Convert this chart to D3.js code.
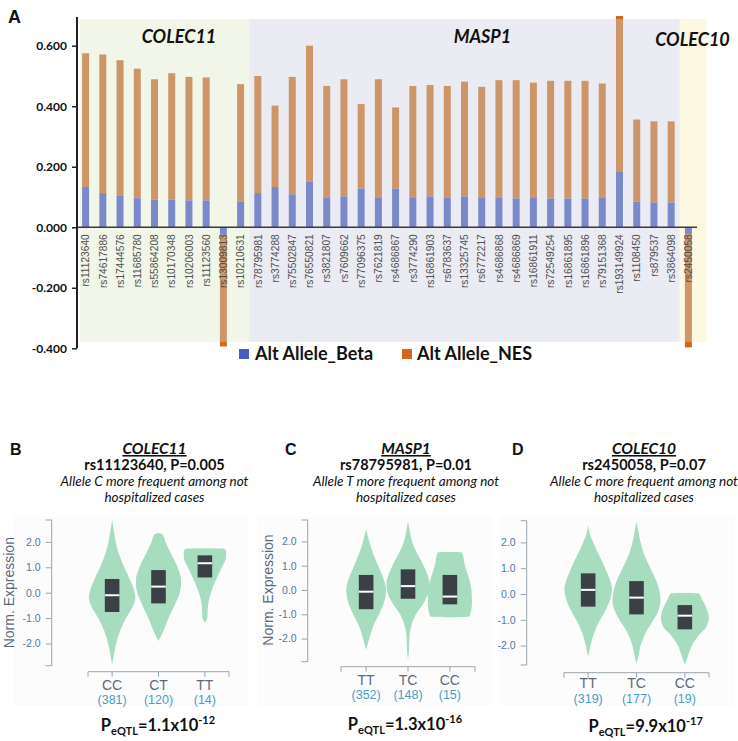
<!DOCTYPE html>
<html><head><meta charset="utf-8">
<script src="https://cdn.jsdelivr.net/npm/d3@7"></script>
<style>body{margin:0;background:#fff} svg{display:block}</style>
</head><body>
<svg id="c" width="738" height="741"></svg>
<script>
// ---------------- DATA: panel A ----------------
const snps = ["rs11123640","rs74617886","rs17444576","rs11685780","rs55864208","rs10170348","rs10206003","rs11123560","rs13009813","rs10210631",
  "rs78795981","rs3774288","rs75502847","rs76550821","rs3821807","rs7609662","rs77096375","rs7621819","rs4686867","rs3774290",
  "rs16861903","rs6783637","rs13325745","rs6772217","rs4686868","rs4686869","rs16861911","rs72549254","rs16861895","rs16861896",
  "rs79151368","rs193149924","rs1108450","rs879537","rs3864098","rs2450058"];
const betaValues = [0.133,0.113,0.104,0.096,0.091,0.091,0.089,0.089,-0.025,0.085,
  0.113,0.133,0.109,0.150,0.099,0.102,0.128,0.099,0.128,0.099,
  0.102,0.099,0.102,0.099,0.099,0.095,0.099,0.095,0.095,0.095,
  0.099,0.185,0.085,0.082,0.082,-0.022];
const nesValues = [0.442,0.458,0.448,0.428,0.398,0.418,0.408,0.406,-0.369,0.388,
  0.387,0.269,0.388,0.450,0.368,0.387,0.279,0.390,0.268,0.368,
  0.368,0.368,0.379,0.365,0.387,0.391,0.379,0.389,0.389,0.389,
  0.376,0.513,0.271,0.268,0.268,-0.375];
const yTicksA = [-0.4,-0.2,0,0.2,0.4,0.6];
const geneNames = ["COLEC11","MASP1","COLEC10"];
const geneFirstSnp = ["rs11123640","rs78795981","rs2450058"];
const geneLastSnp = ["rs10210631","rs3864098","rs2450058"];
const legendLabels = ["Alt Allele_Beta","Alt Allele_NES"];

// ---------------- DATA: panels B-D ----------------
const panelLetters = ["B","C","D"];
const panelGenes = ["COLEC11","MASP1","COLEC10"];
const panelSnpText = ["rs11123640, P=0.005","rs78795981, P=0.01","rs2450058, P=0.07"];
const panelNote1 = ["Allele C more frequent among not","Allele T more frequent among not","Allele C more frequent among not"];
const panelNote2 = ["hospitalized cases","hospitalized cases","hospitalized cases"];
const genotypesB = ["CC","CT","TT"], countsB = [381,120,14];
const genotypesC = ["TT","TC","CC"], countsC = [352,148,15];
const genotypesD = ["TT","TC","CC"], countsD = [319,177,19];
const exprTicks = [-2,-1,0,1,2];
// boxes: [q1, median, q3]
const boxesB = [[-0.76,-0.10,0.54],[-0.42,0.24,0.89],[0.60,1.16,1.47]];
const boxesC = [[-0.79,-0.07,0.62],[-0.36,0.16,0.85],[-0.59,-0.27,0.62]];
const boxesD = [[-0.49,0.16,0.80],[-0.79,-0.14,0.50],[-1.37,-0.84,-0.43]];
// violin profiles: [expression, relative density]
const violinsB = [
  [[2.86,0],[2.5,.06],[2.0,.15],[1.5,.29],[1.0,.5],[0.5,.75],[0.0,.94],[-0.2,.97],[-0.5,.88],[-1.0,.58],[-1.5,.33],[-2.0,.17],[-2.5,.06],[-2.85,0]],
  [[2.35,0],[2.3,.17],[2.0,.29],[1.5,.54],[1.0,.79],[0.5,.94],[0.3,.94],[0.0,.88],[-0.5,.67],[-1.0,.42],[-1.5,.21],[-1.9,0]],
  [[1.75,0],[1.74,.75],[1.65,.88],[1.4,.88],[1.0,.71],[0.5,.46],[0.0,.25],[-0.5,.13],[-1.0,.1],[-1.18,0]]
];
const violinsC = [
  [[2.5,0],[2.0,.13],[1.5,.29],[1.0,.5],[0.5,.71],[0.0,.83],[-0.5,.75],[-1.0,.54],[-1.5,.29],[-2.0,.13],[-2.47,0]],
  [[2.84,0],[2.5,.06],[2.0,.17],[1.5,.38],[1.0,.65],[0.5,.85],[0.25,.9],[0.0,.88],[-0.5,.67],[-1.0,.33],[-1.5,.13],[-2.0,.06],[-2.5,.04],[-2.85,0]],
  [[1.56,0],[1.55,.5],[1.0,.63],[0.5,.79],[0.0,.9],[-0.5,.92],[-0.9,.88],[-1.1,.8],[-1.12,0]]
];
const violinsD = [
  [[2.67,0],[2.3,.08],[2.0,.21],[1.5,.46],[1.0,.71],[0.5,.92],[0.2,.99],[-0.2,.92],[-0.5,.79],[-1.0,.5],[-1.5,.25],[-2.0,.1],[-2.45,0]],
  [[2.8,0],[2.5,.06],[2.0,.17],[1.5,.33],[1.0,.58],[0.5,.83],[0.0,.98],[-0.25,1],[-0.5,.96],[-1.0,.71],[-1.5,.38],[-2.0,.17],[-2.4,.08],[-2.69,0]],
  [[0.04,0],[0.03,.58],[-0.2,.71],[-0.5,.88],[-0.9,1],[-1.3,.88],[-1.6,.58],[-2.0,.29],[-2.4,.13],[-2.75,0]]
];
const pMantissa = ["1.1","1.3","9.9"];
const pExponent = ["-12","-16","-17"];

// ---------------- DRAW ----------------
const svg = d3.select("#c");
const calibri = "Lato, 'Liberation Sans', sans-serif";
const arial = "'Liberation Sans', Arial, sans-serif";

// ===== Panel A =====
const xA = d3.scalePoint().domain(snps).range([77, 697]).padding(0.5);
const stepA = xA.step();
const yA = d3.scaleLinear().domain([-0.4, 0.6]).range([348.3, 45.7]);
const barW = 7;
const bgTop = yA(0.688), bgBot = yA(-0.379);
const bgColors = ["#f1f6e9", "#ebebf3", "#fcf8e2"];

const regionX0 = [xA(geneFirstSnp[0]) - stepA*0.32, xA(geneFirstSnp[1]) - stepA/2, xA(geneFirstSnp[2]) - stepA/2];
const regionX1 = [xA(geneLastSnp[0]) + stepA/2, xA(geneLastSnp[1]) + stepA/2, xA(geneLastSnp[2]) + stepA*1.05];
geneNames.forEach((g,i)=>{
  svg.append("rect").attr("x", regionX0[i]).attr("y", bgTop)
    .attr("width", regionX1[i]-regionX0[i]).attr("height", bgBot-bgTop).attr("fill", bgColors[i]);
});

const defs = svg.append("defs");
defs.append("clipPath").attr("id","inside").append("rect")
  .attr("x",0).attr("y",bgTop).attr("width",738).attr("height",bgBot-bgTop);
const outClip = defs.append("clipPath").attr("id","outside");
outClip.append("rect").attr("x",0).attr("y",0).attr("width",738).attr("height",bgTop);
outClip.append("rect").attr("x",0).attr("y",bgBot).attr("width",738).attr("height",400);

const stacked = snps.map((s,i)=>({snp:s, beta:betaValues[i], nes:nesValues[i]}));
function drawBars(g, cBeta, cNes){
  g.selectAll("rect.nes").data(stacked).join("rect").attr("class","nes")
    .attr("x", d=>xA(d.snp)-barW/2).attr("width", barW)
    .attr("y", d=>Math.min(yA(d.beta), yA(d.beta+d.nes)))
    .attr("height", d=>Math.abs(yA(d.beta)-yA(d.beta+d.nes)))
    .attr("fill", cNes);
  g.selectAll("rect.beta").data(stacked).join("rect").attr("class","beta")
    .attr("x", d=>xA(d.snp)-barW/2).attr("width", barW)
    .attr("y", d=>Math.min(yA(0), yA(d.beta)))
    .attr("height", d=>Math.abs(yA(0)-yA(d.beta)))
    .attr("fill", cBeta);
}
drawBars(svg.append("g").attr("clip-path","url(#inside)"), "#7b89cb", "#cc9668");
drawBars(svg.append("g").attr("clip-path","url(#outside)"), "#4a5cc4", "#d5661c");

// gene labels
const geneLabelX = [179, 482.5, 692.5], geneLabelY = [43, 43, 46];
geneNames.forEach((g,i)=>{
  svg.append("text").attr("x", geneLabelX[i]).attr("y", geneLabelY[i])
    .attr("text-anchor","middle").attr("font-family", calibri).attr("font-weight","bold")
    .attr("font-style","italic").attr("font-size", 18).attr("fill","#111").text(g);
});

// x axis line (zero)
svg.append("line").attr("x1",77).attr("x2",697).attr("y1",yA(0)).attr("y2",yA(0))
  .attr("stroke","#3a3a3a").attr("stroke-width",1.5);
// snp labels
svg.append("g").selectAll("text").data(snps).join("text")
  .attr("transform", d=>`translate(${xA(d)},${yA(0)+7}) rotate(-90)`)
  .attr("dy","0.36em").attr("text-anchor","end")
  .attr("font-family", arial).attr("font-size", 10.2).attr("fill","#505050").text(d=>d);

// y axis
const yAxisA = d3.axisLeft(yA).tickValues(yTicksA).tickSize(5).tickPadding(5)
  .tickFormat(d=>d.toFixed(3));
const gyA = svg.append("g").attr("transform","translate(77,0)").call(yAxisA);
gyA.select(".domain").remove();
gyA.selectAll(".tick line").attr("stroke","#222").attr("stroke-width",1.5);
gyA.selectAll(".tick text").attr("font-family", calibri).attr("font-weight","bold")
  .attr("font-size",12).attr("fill","#111");
svg.append("line").attr("x1",77).attr("x2",77).attr("y1",yA(0.695)).attr("y2",yA(-0.4))
  .attr("stroke","#222").attr("stroke-width",2);

// letter A
svg.append("text").attr("x",8).attr("y",23).attr("font-family",arial).attr("font-weight","bold")
  .attr("font-size",18).attr("fill","#111").text("A");

// legend
const legX = [239, 402], legTextX = [255, 417], legColors = ["#4a5cc4","#d5661c"];
legendLabels.forEach((l,i)=>{
  svg.append("rect").attr("x",legX[i]).attr("y",349).attr("width",10).attr("height",10).attr("fill",legColors[i]);
  svg.append("text").attr("x",legTextX[i]).attr("y",360).attr("font-family",calibri)
    .attr("font-weight","bold").attr("font-size",18).attr("fill","#111").text(l);
});

// ===== Panels B-D =====
const panelData = [
  {gt:genotypesB, n:countsB, box:boxesB, vio:violinsB},
  {gt:genotypesC, n:countsC, box:boxesC, vio:violinsC},
  {gt:genotypesD, n:countsD, box:boxesD, vio:violinsD}
];
const layout = [
  {letterX:10, cx:154.5, bgX:13, axisX:51.7, yZero:592.7, unit:25.4, yTop:520, yBot:665.7, xs:88, xe:229, pad:0.52, xAxisY:671.7, lab1:690, lab2:704, pX:158, pY:731, yLabel:true, yLabelX:9.5},
  {letterX:285, cx:406, bgX:257, axisX:307.7, yZero:590, unit:24.3, yTop:520, yBot:661.7, xs:341, xe:475, pad:0.6, xAxisY:666.7, lab1:685, lab2:698.5, pX:405, pY:730, yLabel:true, yLabelX:268.5},
  {letterX:512, cx:644, bgX:500, axisX:526.7, yZero:594, unit:25.8, yTop:520.7, yBot:665, xs:564, xe:709, pad:0.5, xAxisY:672.7, lab1:688.3, lab2:703.3, pX:645.7, pY:731.5, yLabel:false}
];
const violinGreen = "#a7dcbf";
const maxHalf = 24;
const wScale = d3.scaleLinear().domain([0,1]).range([0,maxHalf]);

layout.forEach((L,pi)=>{
  const D = panelData[pi];
  const g = svg.append("g");
  // faint background
  g.append("rect").attr("x",L.bgX).attr("y",516).attr("width",235).attr("height",190).attr("fill","#fcfcfc");
  // letter
  g.append("text").attr("x",L.letterX).attr("y",455).attr("font-family",arial).attr("font-weight","bold")
    .attr("font-size",16).attr("fill","#111").text(panelLetters[pi]);
  // titles
  g.append("text").attr("x",L.cx).attr("y",454).attr("text-anchor","middle").attr("font-family",calibri)
    .attr("font-weight","bold").attr("font-style","italic").attr("font-size",15.5)
    .style("text-decoration","underline").attr("fill","#111").text(panelGenes[pi]);
  g.append("text").attr("x",L.cx).attr("y",469.5).attr("text-anchor","middle").attr("font-family",calibri)
    .attr("font-weight","bold").attr("font-size",14.5).attr("fill","#111").text(panelSnpText[pi]);
  g.append("text").attr("x",L.cx).attr("y",486).attr("text-anchor","middle").attr("font-family",calibri)
    .attr("font-style","italic").attr("font-size",13.5).attr("fill","#111").text(panelNote1[pi]);
  g.append("text").attr("x",L.cx).attr("y",501.5).attr("text-anchor","middle").attr("font-family",calibri)
    .attr("font-style","italic").attr("font-size",13.5).attr("fill","#111").text(panelNote2[pi]);

  const y = d3.scaleLinear().domain([-2,2]).range([L.yZero+2*L.unit, L.yZero-2*L.unit]);
  const x = d3.scalePoint().domain(D.gt).range([L.xs, L.xe]).padding(L.pad);

  // violins
  D.gt.forEach((gt,k)=>{
    const cx = x(gt);
    const area = d3.area().curve(d3.curveMonotoneY)
      .y(d=>y(d[0])).x0(d=>cx - wScale(d[1])).x1(d=>cx + wScale(d[1]));
    g.append("path").attr("d", area(D.vio[k])).attr("fill", violinGreen);
    const b = D.box[k];
    g.append("rect").attr("x",cx-7.3).attr("width",14.6).attr("y",y(b[2])).attr("height",y(b[0])-y(b[2]))
      .attr("fill","#3b4047");
    g.append("line").attr("x1",cx-7.3).attr("x2",cx+7.3).attr("y1",y(b[1])).attr("y2",y(b[1]))
      .attr("stroke","#fff").attr("stroke-width",2);
  });

  // y axis
  const ax = d3.axisLeft(y).tickValues(exprTicks).tickSize(6).tickPadding(5).tickFormat(d=>d.toFixed(1));
  const gy = g.append("g").attr("transform",`translate(${L.axisX},0)`).call(ax);
  gy.select(".domain").remove();
  gy.selectAll(".tick line").attr("stroke","#9aa3ad");
  gy.selectAll(".tick text").attr("font-family",arial).attr("font-size",10.5).attr("fill","#4d7aa3");
  g.append("line").attr("x1",L.axisX).attr("x2",L.axisX).attr("y1",L.yTop).attr("y2",L.yBot).attr("stroke","#9aa3ad");
  g.append("line").attr("x1",L.axisX-6).attr("x2",L.axisX).attr("y1",L.yTop).attr("y2",L.yTop).attr("stroke","#9aa3ad");
  g.append("line").attr("x1",L.axisX-6).attr("x2",L.axisX).attr("y1",L.yBot).attr("y2",L.yBot).attr("stroke","#9aa3ad");
  if (L.yLabel) {
    g.append("text").attr("transform",`translate(${L.yLabelX},${L.yZero}) rotate(-90)`).attr("dy","0.35em")
      .attr("text-anchor","middle").attr("font-family",arial).attr("font-size",14).attr("fill","#5b6a7d")
      .text("Norm. Expression");
  }
  // x axis
  g.append("line").attr("x1",L.xs).attr("x2",L.xe).attr("y1",L.xAxisY).attr("y2",L.xAxisY).attr("stroke","#9aa3ad");
  [L.xs, L.xe].concat(D.gt.map(d=>x(d))).forEach(px=>{
    g.append("line").attr("x1",px).attr("x2",px).attr("y1",L.xAxisY).attr("y2",L.xAxisY+5).attr("stroke","#9aa3ad");
  });
  D.gt.forEach((gt,k)=>{
    g.append("text").attr("x",x(gt)).attr("y",L.lab1).attr("text-anchor","middle").attr("font-family",arial)
      .attr("font-size",14).attr("fill","#5b6a7d").text(gt);
    g.append("text").attr("x",x(gt)).attr("y",L.lab2).attr("text-anchor","middle").attr("font-family",arial)
      .attr("font-size",12.5).attr("fill","#4a9cc7").text(`(${D.n[k]})`);
  });
  // P eQTL
  const pt = g.append("text").attr("x",L.pX).attr("y",L.pY).attr("text-anchor","middle")
    .attr("font-family",calibri).attr("font-weight","bold").attr("fill","#111");
  pt.append("tspan").attr("font-size",16.5).text("P");
  pt.append("tspan").attr("font-size",11).attr("dy",4).text("eQTL");
  pt.append("tspan").attr("font-size",16.5).attr("dy",-4).text("=" + pMantissa[pi] + "x10");
  pt.append("tspan").attr("font-size",11).attr("dy",-7).text(pExponent[pi]);
});
</script>
</body></html>
